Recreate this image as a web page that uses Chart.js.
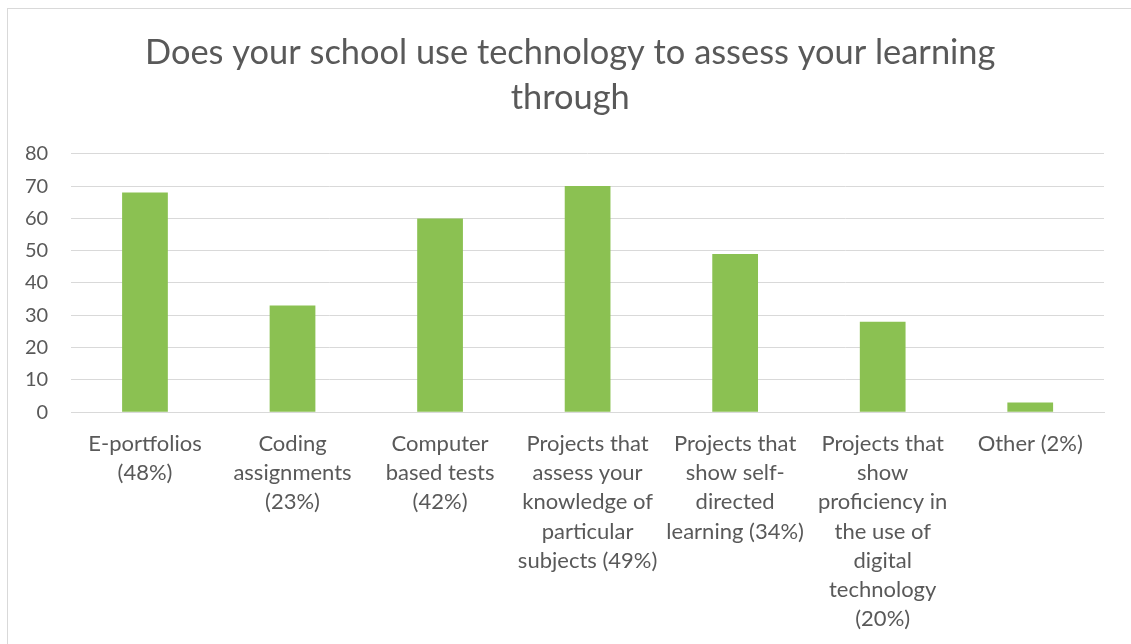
<!DOCTYPE html>
<html>
<head>
<meta charset="utf-8">
<script src="https://cdn.jsdelivr.net/npm/chart.js@4/dist/chart.umd.min.js"></script>
<style>
  html, body { margin: 0; padding: 0; background: #fff; overflow: hidden; }
  #wrap { position: absolute; left: 0; top: 0; width: 1131px; height: 644px; }
  #frame { position: absolute; left: 7px; top: 8px; width: 1140px; height: 660px; border: 1px solid #d9d9d9; box-sizing: border-box; }
</style>
</head>
<body>
<div id="frame"></div>
<div id="wrap"><canvas id="chart" width="1131" height="644"></canvas></div>
<script>
const titleLines = ["Does your school use technology to assess your learning", "through"]

const categories = [
    ["E-portfolios", "(48%)"],
    ["Coding", "assignments", "(23%)"],
    ["Computer", "based tests", "(42%)"],
    ["Projects that", "assess your", "knowledge of", "particular", "subjects (49%)"],
    ["Projects that", "show self-", "directed", "learning (34%)"],
    ["Projects that", "show", "proficiency in", "the use of", "digital", "technology", "(20%)"],
    ["Other (2%)"],
]

const responses = [68, 33, 60, 70, 49, 28, 3]

const yTicks = [0, 10, 20, 30, 40, 50, 60, 70, 80]

const fontFamily = "Lato, 'Open Sans', sans-serif"
const textColor = "#595959"

new Chart(document.getElementById("chart").getContext("2d"), {
    type: "bar",
    data: {
        labels: categories,
        datasets: [
            {
                data: responses,
                backgroundColor: "#8BC152",
                barPercentage: 0.62,
                categoryPercentage: 0.5,
            },
        ],
    },
    options: {
        responsive: false,
        animation: false,
        layout: {
            // first x label already reserves room on the left, so keep this small
            padding: { left: 2, right: 27, top: 0, bottom: 1 },
        },
        plugins: {
            legend: { display: false },
            tooltip: { enabled: false },
            title: {
                display: true,
                // en spaces in front nudge the centred title to the right
                text: titleLines.map((t) => "\u2002\u2002" + t),
                color: textColor,
                font: { family: fontFamily, size: 34.4, weight: "normal", lineHeight: 1.32 },
                padding: { top: 30, bottom: 33 },
            },
        },
        scales: {
            y: {
                min: 0,
                max: 80,
                afterBuildTicks: (axis) => {
                    axis.ticks = yTicks.map((v) => ({ value: v }))
                },
                border: { display: false },
                grid: { color: "#d9d9d9", lineWidth: 1, drawTicks: false },
                ticks: {
                    color: textColor,
                    padding: 23,
                    font: { family: fontFamily, size: 20 },
                },
            },
            x: {
                border: { color: "#d9d9d9" },
                grid: { display: false },
                ticks: {
                    color: textColor,
                    autoSkip: false,
                    maxRotation: 0,
                    minRotation: 0,
                    padding: 9,
                    font: { family: fontFamily, size: 22, lineHeight: 1.33 },
                },
            },
        },
    },
})
</script>
</body>
</html>
